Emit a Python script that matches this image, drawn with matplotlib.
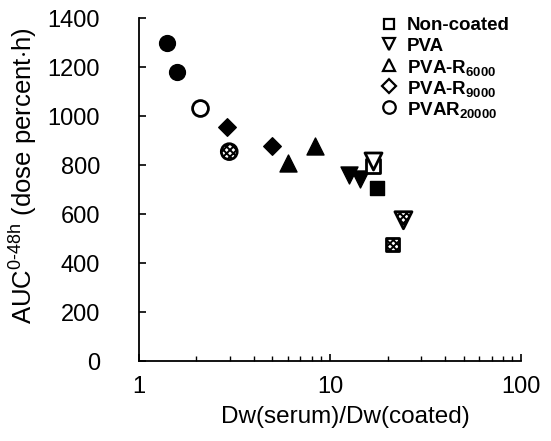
import matplotlib.pyplot as plt

plt.rcParams['font.family'] = ['Liberation Sans', 'DejaVu Sans']
plt.rcParams['mathtext.fontset'] = 'custom'
plt.rcParams['mathtext.rm'] = 'Liberation Sans'
plt.rcParams['mathtext.bf'] = 'Liberation Sans:bold'
plt.rcParams['hatch.linewidth'] = 1.4

# data: (x, y, fill) per coating group
groups = ['Non-coated', 'PVA', 'PVA-R6000', 'PVA-R9000', 'PVAR20000']
labels = ['Non-coated', 'PVA', r'PVA-R$\mathbf{_{6000}}$',
          r'PVA-R$\mathbf{_{9000}}$', r'PVAR$\mathbf{_{20000}}$']
markers = ['s', 'v', '^', 'D', 'o']
sizes = [90, 150, 150, 80, 130]

noncoated_x = [16.7, 17.6, 21.2]
noncoated_y = [795, 705, 475]
noncoated_fill = ['open', 'filled', 'hatched']

pva_x = [12.5, 14.4, 16.7, 24.2]
pva_y = [760, 745, 815, 575]
pva_fill = ['filled', 'filled', 'open', 'hatched']

r6000_x = [6.0, 8.35]
r6000_y = [810, 880]
r6000_fill = ['filled', 'filled']

r9000_x = [2.88, 4.99]
r9000_y = [955, 880]
r9000_fill = ['filled', 'filled']

r20000_x = [1.40, 1.59, 2.09, 2.97]
r20000_y = [1300, 1180, 1035, 855]
r20000_fill = ['filled', 'filled', 'open', 'hatched']

series = [(noncoated_x, noncoated_y, noncoated_fill),
          (pva_x, pva_y, pva_fill),
          (r6000_x, r6000_y, r6000_fill),
          (r9000_x, r9000_y, r9000_fill),
          (r20000_x, r20000_y, r20000_fill)]

fig = plt.figure(figsize=(5.51, 4.41), dpi=100)
ax = fig.add_axes([0.252, 0.181, 0.694, 0.778])

for (xs, ys, fills), m, s in zip(series, markers, sizes):
    for x, y, f in zip(xs, ys, fills):
        if f == 'filled':
            ax.scatter(x, y, marker=m, s=s, c='black', edgecolors='black',
                       linewidths=1, zorder=3)
        elif f == 'open':
            ax.scatter(x, y, marker=m, s=s, facecolors='white',
                       edgecolors='black', linewidths=2, zorder=4)
        else:
            ax.scatter(x, y, marker=m, s=s, facecolors='white',
                       edgecolors='black', linewidths=2, hatch='xxxxx',
                       zorder=3)

ax.set_xscale('log')
ax.set_xlim(1, 100)
ax.set_ylim(0, 1400)
ax.set_yticks(range(0, 1401, 200))
ax.set_xticks([1, 10, 100])
ax.set_xticklabels(['1', '10', '100'])

for side in ['top', 'right']:
    ax.spines[side].set_visible(False)
for side in ['left', 'bottom']:
    ax.spines[side].set_linewidth(1.3)

ax.tick_params(axis='both', which='major', direction='in', length=5,
               width=1.2, labelsize=17)
ax.tick_params(axis='y', which='major', pad=28)
ax.tick_params(axis='x', which='major', pad=11)
ax.tick_params(axis='x', which='minor', direction='in', length=3.5, width=1)
ax.tick_params(axis='y', which='minor', left=False)

ax.set_xlabel('Dw(serum)/Dw(coated)', fontsize=17.5)
ax.xaxis.set_label_coords(0.539, -0.13)
ax.set_ylabel(r'AUC$^{\mathrm{0\text{-}48h}}$ (dose percent$\cdot$h)',
              fontsize=18.5)
ax.yaxis.set_label_coords(-0.262, 0.54)

# legend drawn by hand so the rows sit where the reference has them
leg_x_marker = 0.655
leg_x_text = 0.70
leg_y = [0.984, 0.923, 0.862, 0.801, 0.740]
leg_ms = [7, 9, 9, 7, 9]
for lab, m, ly, ms in zip(labels, markers, leg_y, leg_ms):
    ax.plot([leg_x_marker], [ly], marker=m, ls='none', mfc='white', mec='black',
            mew=1.6, ms=ms, transform=ax.transAxes, clip_on=False)
    ax.text(leg_x_text, ly, lab, transform=ax.transAxes, fontsize=13.5,
            fontweight='bold', va='center_baseline', ha='left')

fig.savefig('out.png', dpi=100)
